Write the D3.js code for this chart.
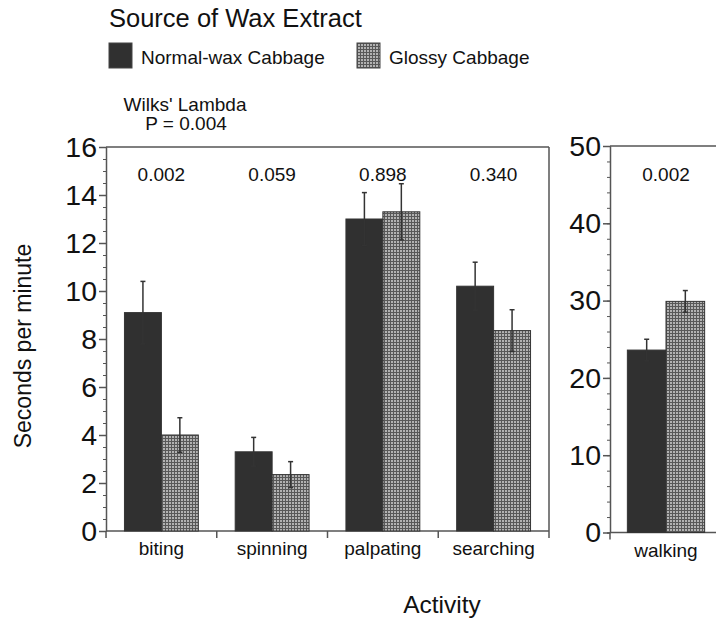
<!DOCTYPE html>
<html>
<head>
<meta charset="utf-8">
<script src="https://cdn.jsdelivr.net/npm/d3@7"></script>
<style>
  body { margin: 0; background: #fff; }
  svg text { font-family: "Liberation Sans", Arial, Helvetica, sans-serif; fill: #111; }
</style>
</head>
<body>
<script>
var w = 716;
var h = 622;

// data
var categories = ["biting", "spinning", "palpating", "searching"];
var normalMeans = [9.1, 3.3, 13.0, 10.2];
var normalErr = [1.3, 0.6, 1.1, 1.0];
var glossyMeans = [4.0, 2.35, 13.3, 8.35];
var glossyErr = [0.72, 0.54, 1.17, 0.87];
var pValues = ["0.002", "0.059", "0.898", "0.340"];

var walkCategories = ["walking"];
var walkNormalMeans = [23.6];
var walkNormalErr = [1.4];
var walkGlossyMeans = [29.9];
var walkGlossyErr = [1.4];
var walkPValues = ["0.002"];

var seriesNames = ["Normal-wax Cabbage", "Glossy Cabbage"];
var leftTicks = [0, 2, 4, 6, 8, 10, 12, 14, 16];
var rightTicks = [0, 10, 20, 30, 40, 50];

var svg = d3.select("body")
    .append("svg")
    .attr("width", w)
    .attr("height", h);

// fine grid fill for the glossy bars
var pat = svg.append("defs").append("pattern")
    .attr("id", "glossy")
    .attr("width", 3)
    .attr("height", 3)
    .attr("patternUnits", "userSpaceOnUse");
pat.append("rect").attr("width", 3).attr("height", 3).attr("fill", "#b2b2b2");
pat.append("rect").attr("width", 1).attr("height", 3).attr("fill", "#585858");
pat.append("rect").attr("width", 3).attr("height", 1).attr("fill", "#585858");

var fills = ["#303030", "url(#glossy)"];
var frameColor = "#555";

// scales
var xScale = d3.scaleBand()
    .domain(categories)
    .range([106, 549])
    .paddingInner(0.333)
    .paddingOuter(0.1667);

var xWalk = d3.scaleBand()
    .domain(walkCategories)
    .range([610, 722])
    .paddingInner(0.31)
    .paddingOuter(0.155);

var yLeft = d3.scaleLinear().domain([0, 16]).range([531, 147]);
var yRight = d3.scaleLinear().domain([0, 50]).range([532.5, 146]);

function drawPanel(x, y, cats, means1, err1, means2, err2, pvals, ticks, minorStep, closeRight) {
    var g = svg.append("g");
    var inner = d3.scaleBand().domain([0, 1]).range([0, x.bandwidth()]);
    var r = x.range();

    // frame
    g.append("line").attr("x1", r[0]).attr("x2", closeRight ? r[1] : w + 5)
        .attr("y1", y(y.domain()[1])).attr("y2", y(y.domain()[1]))
        .attr("stroke", frameColor).attr("stroke-width", 1.5);
    if (closeRight) {
        g.append("line").attr("x1", r[1]).attr("x2", r[1])
            .attr("y1", y(y.domain()[1])).attr("y2", y(0))
            .attr("stroke", frameColor).attr("stroke-width", 1.5);
    }

    // minor ticks
    g.append("g")
        .attr("transform", "translate(" + r[0] + ",0)")
        .call(d3.axisLeft(y).tickValues(d3.range(0, y.domain()[1] + 0.01, minorStep)).tickSize(3).tickFormat(""))
        .call(function(s) { s.selectAll("path, line").attr("stroke", frameColor); });

    // major ticks + labels
    g.append("g")
        .attr("transform", "translate(" + r[0] + ",0)")
        .call(d3.axisLeft(y).tickValues(ticks).tickSize(7).tickPadding(2).tickSizeOuter(0))
        .call(function(s) {
            s.selectAll("path, line").attr("stroke", frameColor).attr("stroke-width", 1.5);
            s.selectAll("text").attr("font-size", 28.5).attr("fill", "#111")
                .attr("font-family", "Liberation Sans, Arial, sans-serif");
        });

    // x axis
    var xAxisG = g.append("g")
        .attr("transform", "translate(0," + y(0) + ")")
        .call(d3.axisBottom(x).tickSize(0).tickPadding(11).tickSizeOuter(0));
    xAxisG.select("path").attr("d", "M" + r[0] + ",0H" + (closeRight ? r[1] : w + 5))
        .attr("stroke", frameColor).attr("stroke-width", 1.5);
    xAxisG.selectAll("text").attr("font-size", 19).attr("fill", "#111")
        .attr("font-family", "Liberation Sans, Arial, sans-serif");

    var gap = (x.step() - x.bandwidth()) / 2;
    var bounds = cats.map(function(c) { return x(c) - gap; });
    if (closeRight) bounds.push(r[1]);
    g.selectAll(".xb")
        .data(bounds)
        .enter()
        .append("line")
        .attr("x1", function(d) { return d; })
        .attr("x2", function(d) { return d; })
        .attr("y1", y(0))
        .attr("y2", y(0) + 7)
        .attr("stroke", frameColor)
        .attr("stroke-width", 1.5);

    // bars
    var rows = [];
    cats.forEach(function(c, i) {
        rows.push({ c: c, s: 0, v: means1[i], e: err1[i] });
        rows.push({ c: c, s: 1, v: means2[i], e: err2[i] });
    });

    g.selectAll(".bar")
        .data(rows)
        .enter()
        .append("rect")
        .attr("x", function(d) { return x(d.c) + inner(d.s); })
        .attr("y", function(d) { return y(d.v); })
        .attr("width", inner.bandwidth())
        .attr("height", function(d) { return y(0) - y(d.v); })
        .attr("fill", function(d) { return fills[d.s]; })
        .attr("stroke", "#333")
        .attr("stroke-width", 1);

    // error bars
    var eb = g.selectAll(".err")
        .data(rows)
        .enter()
        .append("g")
        .attr("transform", function(d) {
            return "translate(" + (x(d.c) + inner(d.s) + inner.bandwidth() / 2) + ",0)";
        });
    eb.append("line")
        .attr("y1", function(d) { return y(d.v + d.e); })
        .attr("y2", function(d) { return y(d.v - d.e); })
        .attr("stroke", "#333").attr("stroke-width", 1.5);
    eb.append("line")
        .attr("x1", -2.5).attr("x2", 2.5)
        .attr("y1", function(d) { return y(d.v + d.e); })
        .attr("y2", function(d) { return y(d.v + d.e); })
        .attr("stroke", "#333").attr("stroke-width", 1.5);
    eb.append("line")
        .attr("x1", -2.5).attr("x2", 2.5)
        .attr("y1", function(d) { return y(d.v - d.e); })
        .attr("y2", function(d) { return y(d.v - d.e); })
        .attr("stroke", "#333").attr("stroke-width", 1.5);

    // p values
    g.selectAll(".pv")
        .data(cats)
        .enter()
        .append("text")
        .attr("x", function(d) { return x(d) + x.bandwidth() / 2; })
        .attr("y", 181)
        .attr("text-anchor", "middle")
        .attr("font-size", 19)
        .text(function(d, i) { return pvals[i]; });
}

drawPanel(xScale, yLeft, categories, normalMeans, normalErr, glossyMeans, glossyErr, pValues, leftTicks, 0.5, true);
drawPanel(xWalk, yRight, walkCategories, walkNormalMeans, walkNormalErr, walkGlossyMeans, walkGlossyErr, walkPValues, rightTicks, 2, false);

// legend
svg.append("text")
    .attr("x", 109)
    .attr("y", 27)
    .attr("font-size", 25.5)
    .text("Source of Wax Extract");

var legendX = [109, 357];
var leg = svg.selectAll(".leg")
    .data(seriesNames)
    .enter()
    .append("g")
    .attr("transform", function(d, i) { return "translate(" + legendX[i] + ",43)"; });
leg.append("rect")
    .attr("width", 23)
    .attr("height", 25)
    .attr("fill", function(d, i) { return fills[i]; })
    .attr("stroke", "#444")
    .attr("stroke-width", 1);
leg.append("text")
    .attr("x", 32)
    .attr("y", 21)
    .attr("font-size", 19)
    .text(function(d) { return d; });

// overall test
svg.append("text")
    .attr("x", 185)
    .attr("y", 111)
    .attr("text-anchor", "middle")
    .attr("font-size", 19)
    .text("Wilks' Lambda");
svg.append("text")
    .attr("x", 186)
    .attr("y", 130)
    .attr("text-anchor", "middle")
    .attr("font-size", 19)
    .text("P = 0.004");

// axis titles
svg.append("text")
    .attr("text-anchor", "middle")
    .attr("transform", "translate(31,346) rotate(-90)")
    .attr("font-size", 23)
    .text("Seconds per minute");

svg.append("text")
    .attr("text-anchor", "middle")
    .attr("x", 442)
    .attr("y", 613)
    .attr("font-size", 24.5)
    .text("Activity");
</script>
</body>
</html>
